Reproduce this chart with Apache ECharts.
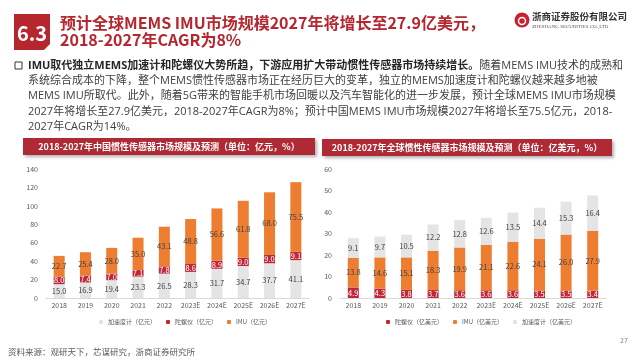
<!DOCTYPE html>
<html><head><meta charset="utf-8">
<script src="https://cdn.jsdelivr.net/npm/echarts@6/dist/echarts.min.js"></script>
<style>html,body{margin:0;padding:0;background:#fff}#c{width:644px;height:363px}</style>
</head><body><div id="c"></div>
<script>
const years = ['2018','2019','2020','2021','2022','2023E','2024E','2025E','2026E','2027E'];
// China inertial sensor market (亿元)
const cnAccel = [15.0,16.9,19.4,23.3,26.5,28.3,31.7,34.7,37.7,41.1];
const cnGyro  = [8.0,7.4,7.0,7.1,7.8,8.6,8.9,9.0,9.0,9.1];
const cnImu   = [22.7,25.4,28.0,35.0,43.1,48.8,56.6,61.8,68.0,75.5];
// Global inertial sensor market (亿美元)
const glGyro  = [4.9,4.3,3.8,3.7,3.6,3.6,3.6,3.5,3.5,3.4];
const glImu   = [13.8,14.6,15.1,18.3,19.9,21.1,22.6,24.1,26.0,27.9];
const glAccel = [9.1,9.7,10.5,12.2,12.8,12.6,13.5,14.4,15.3,16.4];
const cnAxis = {min:0, max:140, interval:20};
const glAxis = {min:0, max:60, interval:10};

const FONT = '"Noto Sans CJK SC","Noto Sans",sans-serif';
const BFONT = '"Open Sans","Noto Sans CJK SC",sans-serif';
const C_ACC = '#E4E4E4', C_GYR = '#C0283A', C_IMU = '#ED7D31';
const RED = '#B5262F';

const chart = echarts.init(document.getElementById('c'), null, {renderer:'canvas'});

function lbl(color){
  return {show:true, position:'inside', fontSize:7.5, color:color, fontFamily:FONT,
    formatter: p => p.value.toFixed(1)};
}
function xAx(gi){
  return {type:'category', gridIndex:gi, data:years,
    axisTick:{show:false}, axisLine:{lineStyle:{color:'#D9D9D9'}},
    axisLabel:{fontSize:7, color:'#595959', margin:4, fontFamily:FONT}};
}
function yAx(gi, a){
  return {type:'value', gridIndex:gi, min:a.min, max:a.max, interval:a.interval,
    axisLine:{show:false}, axisTick:{show:false}, splitLine:{show:false},
    axisLabel:{fontSize:7, color:'#595959', margin:8, fontFamily:FONT}};
}
function bar(name, data, gi, color, lc, stack){
  return {name, type:'bar', xAxisIndex:gi, yAxisIndex:gi, stack, data,
    barWidth:11, itemStyle:{color}, label:lbl(lc)};
}

const bodyLines = [
  '系统综合成本的下降，整个MEMS惯性传感器市场正在经历巨大的变革，独立的MEMS加速度计和陀螺仪越来越多地被',
  'MEMS IMU所取代。此外，随着5G带来的智能手机市场回暖以及汽车智能化的进一步发展，预计全球MEMS IMU市场规模',
  '2027年将增长至27.9亿美元，2018-2027年CAGR为8%；预计中国MEMS IMU市场规模2027年将增长至75.5亿元，2018-',
  '2027年CAGR为14%。'
];

const hdr = (x,y,w,t)=>[
  {type:'rect', shape:{x, y, width:w, height:17}, style:{fill:'#B02A35', shadowBlur:3, shadowOffsetX:2, shadowOffsetY:2, shadowColor:'rgba(0,0,0,0.3)'}},
  {type:'text', style:{text:t, x:x+w/2, y:y+8.5, fill:'#fff', font:'bold 9px '+FONT, align:'center', textAlign:'center', verticalAlign:'middle', textVerticalAlign:'middle'}}
];

const graphics = [
  {type:'polygon', shape:{points:[[14,14],[50,14],[50,44],[44,50],[14,50]]}, style:{fill:RED}},
  {type:'text', style:{text:'6.3', x:32, y:33, fill:'#fff', font:'bold 20px '+FONT, align:'center', verticalAlign:'middle', textAlign:'center', textVerticalAlign:'middle'}},
  {type:'text', style:{text:'预计全球MEMS IMU市场规模2027年将增长至27.9亿美元，', x:60, y:23, fill:RED, font:'bold 16px '+FONT, verticalAlign:'middle', textVerticalAlign:'middle'}},
  {type:'text', style:{text:'2018-2027年CAGR为8%', x:60, y:40, fill:RED, font:'bold 16px '+FONT, verticalAlign:'middle', textVerticalAlign:'middle'}},
  // logo
  {type:'circle', shape:{cx:522, cy:20, r:7.5}, style:{fill:'#C8202E'}},
  {type:'circle', shape:{cx:522, cy:21, r:3.5}, style:{fill:'none', stroke:'#fff', lineWidth:1.5}},
  {type:'text', style:{text:'浙商证券股份有限公司', x:532, y:16, fill:'#333', font:'bold 9.5px '+FONT, verticalAlign:'middle', textVerticalAlign:'middle'}},
  {type:'text', style:{text:'ZHESHANG SECURITIES CO.,LTD', x:532, y:27, fill:'#555', font:'5px "Liberation Serif",serif', verticalAlign:'middle', textVerticalAlign:'middle'}},
  // bullet
  {type:'rect', shape:{x:15, y:62, width:7, height:7}, style:{fill:'none', stroke:'#333', lineWidth:1}},
  {type:'text', style:{x:28, y:66, verticalAlign:'middle', textVerticalAlign:'middle',
    text:'{b|IMU取代独立MEMS加速计和陀螺仪大势所趋，下游应用扩大带动惯性传感器市场持续增长。}{n|随着MEMS IMU技术的成熟和}',
    rich:{b:{fontWeight:'bold', fontSize:11, fill:'#262626', color:'#262626', fontFamily:BFONT},
          n:{fontSize:11, fill:'#404040', color:'#404040', fontFamily:BFONT}}}},
  ...hdr(23,138,292,'2018-2027年中国惯性传感器市场规模及预测（单位：亿元，%）'),
  ...hdr(322,139,290,'2018-2027年全球惯性传感器市场规模及预测（单位：亿美元，%）'),
  // footer
  {type:'text', style:{text:'资料来源：观研天下，芯谋研究，浙商证券研究所', x:8, y:352, fill:'#595959', font:'8.5px '+FONT, verticalAlign:'middle', textVerticalAlign:'middle'}},
  {type:'text', style:{text:'27', x:624, y:340, fill:'#888', font:'7px '+FONT, align:'center', textAlign:'center', verticalAlign:'middle', textVerticalAlign:'middle'}}
];
bodyLines.forEach((t,i)=>{
  graphics.push({type:'text', style:{text:t, x:28, y:81+i*15.2, fill:'#404040', font:'11px '+BFONT, verticalAlign:'middle', textVerticalAlign:'middle'}});
});

const legText = {fontSize:6, color:'#595959', fontFamily:FONT};
chart.setOption({
  animation:false,
  backgroundColor:'#fff',
  textStyle:{fontFamily:FONT},
  grid:[
    {left:46, right:335, top:169, bottom:65},
    {left:340, right:38, top:169, bottom:65}
  ],
  legend:[
    {data:['加速度计（亿元）','陀螺仪（亿元）','IMU（亿元）'], left:94, top:314, itemWidth:4, itemHeight:4, itemGap:10, textStyle:legText},
    {data:['陀螺仪（亿美元）','IMU（亿美元）','加速度计（亿美元）'], left:381, top:314, itemWidth:4, itemHeight:4, itemGap:10, textStyle:legText}
  ],
  xAxis:[xAx(0), xAx(1)],
  yAxis:[yAx(0, cnAxis), yAx(1, glAxis)],
  series:[
    bar('加速度计（亿元）', cnAccel, 0, C_ACC, '#404040', 'cn'),
    bar('陀螺仪（亿元）', cnGyro, 0, C_GYR, '#fff', 'cn'),
    bar('IMU（亿元）', cnImu, 0, C_IMU, '#404040', 'cn'),
    bar('陀螺仪（亿美元）', glGyro, 1, C_GYR, '#fff', 'gl'),
    bar('IMU（亿美元）', glImu, 1, C_IMU, '#404040', 'gl'),
    bar('加速度计（亿美元）', glAccel, 1, C_ACC, '#404040', 'gl')
  ],
  graphic:graphics
});
</script></body></html>
